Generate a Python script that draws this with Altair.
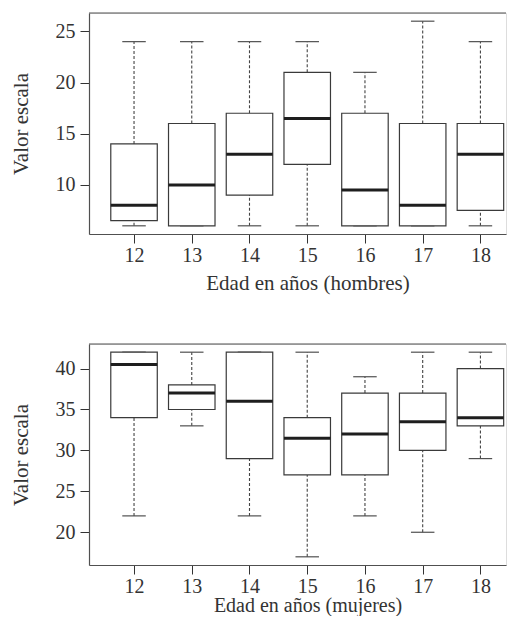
import altair as alt
import pandas as pd

# Ages (x categories)
ages = [12, 13, 14, 15, 16, 17, 18]

# Men: five-number summaries
h_min = [6, 6, 6, 6, 6, 6, 6]
h_q1 = [6.5, 6, 9, 12, 6, 6, 7.5]
h_med = [8, 10, 13, 16.5, 9.5, 8, 13]
h_q3 = [14, 16, 17, 21, 17, 16, 16]
h_max = [24, 24, 24, 24, 21, 26, 24]

# Women: five-number summaries
m_min = [22, 33, 22, 17, 22, 20, 29]
m_q1 = [34, 35, 29, 27, 27, 30, 33]
m_med = [40.5, 37, 36, 31.5, 32, 33.5, 34]
m_q3 = [42, 38, 42, 34, 37, 37, 40]
m_max = [42, 42, 42, 42, 39, 42, 42]

h_ticks = [10, 15, 20, 25]
m_ticks = [20, 25, 30, 35, 40]

W = 417
H = 221
FONT = "Liberation Serif"
TXT = "#333333"
LINE = "#505050"


def panel(mins, q1, med, q3, maxs, ydomain, yticks, xtitle, title_y, title_size):
    df = pd.DataFrame({"edad": ages, "min": mins, "q1": q1, "med": med,
                       "q3": q3, "max": maxs})
    xaxis = alt.Axis(values=ages, format="d", grid=False, domain=True,
                     domainColor=LINE, domainWidth=1.2, tickSize=9,
                     tickColor=TXT, labelFont=FONT, labelFontSize=20,
                     labelColor=TXT, labelPadding=2, titleFont=FONT,
                     titleFontSize=title_size, titleFontWeight="normal",
                     titleColor=TXT, titleX=218.5, titleY=title_y,
                     titleAlign="center", titleBaseline="alphabetic")
    yaxis = alt.Axis(values=yticks, format="d", grid=False, domain=True,
                     domainColor=LINE, domainWidth=1.2, tickSize=9,
                     tickColor=TXT, labelFont=FONT, labelFontSize=20,
                     labelColor=TXT, labelPadding=5, titleFont=FONT,
                     titleFontSize=21, titleFontWeight="normal",
                     titleColor=TXT, titleX=-61.5, titleY=H / 2,
                     titleAngle=270, titleAlign="center",
                     titleBaseline="alphabetic")
    xs = alt.Scale(domain=[11.22, 18.443], nice=False, zero=False, padding=0)
    ys = alt.Scale(domain=ydomain, nice=False, zero=False, padding=0)

    def X():
        return alt.X("edad:Q", scale=xs, axis=xaxis, title=xtitle)

    def Y(f):
        return alt.Y(f + ":Q", scale=ys, axis=yaxis, title="Valor escala")

    base = alt.Chart(df)
    upper = base.mark_rule(strokeDash=[3, 2], color="#444444", strokeWidth=1.1).encode(
        x=X(), y=Y("q3"), y2="max:Q")
    lower = base.mark_rule(strokeDash=[3, 2], color="#444444", strokeWidth=1.1).encode(
        x=X(), y=Y("min"), y2="q1:Q")
    cap_hi = base.mark_tick(orient="horizontal", size=23.5, thickness=1.2,
                            color=LINE, opacity=1).encode(x=X(), y=Y("max"))
    cap_lo = base.mark_tick(orient="horizontal", size=23.5, thickness=1.2,
                            color=LINE, opacity=1).encode(x=X(), y=Y("min"))
    box = base.mark_bar(size=46.5, fill="white", stroke="#3a3a3a",
                        strokeWidth=1.2, opacity=1).encode(
        x=X(), y=Y("q1"), y2="q3:Q")
    median = base.mark_tick(orient="horizontal", size=46.5, thickness=3,
                            color="#1e1e1e", opacity=1).encode(x=X(), y=Y("med"))
    frame_top = alt.Chart(pd.DataFrame({"k": [0]})).mark_rule(
        color=LINE, strokeWidth=1.2).encode(
        x=alt.value(0), x2=alt.value(W), y=alt.value(0))
    return alt.layer(upper, lower, cap_hi, cap_lo, box, median, frame_top).properties(
        width=W, height=H)


top = panel(h_min, h_q1, h_med, h_q3, h_max, [5.2, 26.8], h_ticks,
            "Edad en años (hombres)", 55, 21)
bottom = panel(m_min, m_q1, m_med, m_q3, m_max, [16, 43], m_ticks,
               "Edad en años (mujeres)", 46, 20)

chart = alt.vconcat(top, bottom, spacing=110, bounds="flush").properties(
    padding={"left": 2, "top": 3, "right": -1, "bottom": 0}
).configure_view(stroke=None).configure(background="white")

chart.save("out.html", embed_options={"renderer": "svg", "actions": False})
